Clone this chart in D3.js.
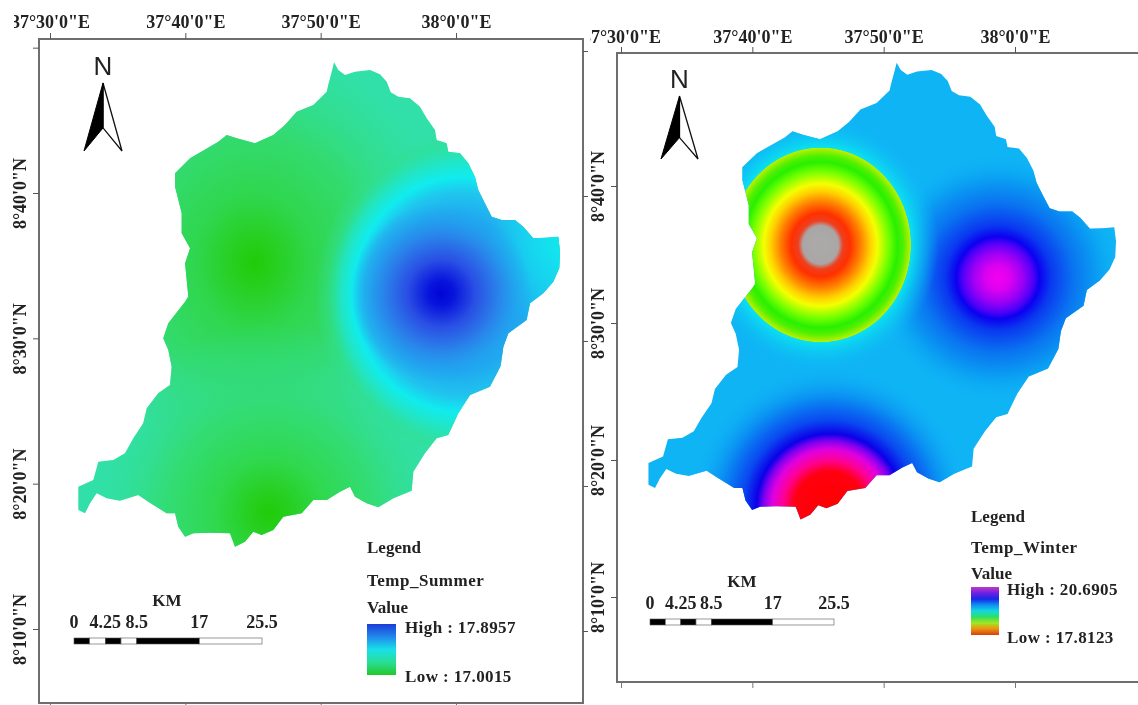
<!DOCTYPE html>
<html>
<head>
<meta charset="utf-8">
<title>Temp Summer / Temp Winter</title>
<script src="https://cdn.jsdelivr.net/npm/d3@7"></script>
<style>
  html, body { margin: 0; padding: 0; background: #fff; }
  svg { display: block; filter: blur(0.7px); }
  text { font-family: "Liberation Serif", serif; font-weight: bold; fill: #222; }
</style>
</head>
<body>
<svg id="chart" width="1138" height="705"></svg>
<script>
// all lon values are minutes east of 37°30', all lat values minutes north of 8°0'
const lonTicks = [0, 10, 20, 30];
const lonLabels = ["37°30'0\"E", "37°40'0\"E", "37°50'0\"E", "38°0'0\"E"];
const latTicks = [10, 20, 30, 40];
const latLabels = ["8°10'0\"N", "8°20'0\"N", "8°30'0\"N", "8°40'0\"N"];
const latTickMarks = [10, 20, 30, 40, 50];

// catchment outline
const borderLon = [20.99, 21.30, 21.80, 22.54, 23.65, 24.38, 24.88, 25.18, 25.74, 26.60, 27.34, 27.84, 28.45, 28.57, 29.31, 29.43, 30.30, 30.91, 31.40, 31.65, 32.14, 32.64, 33.38, 34.36, 34.97, 35.71, 36.70, 37.56, 37.69, 37.63, 37.19, 36.45, 35.47, 35.22, 33.87, 33.50, 33.30, 32.51, 31.04, 30.17, 29.43, 28.57, 27.71, 26.85, 26.73, 25.37, 24.26, 23.40, 22.54, 22.17, 21.43, 20.45, 19.46, 18.60, 17.24, 16.50, 15.64, 15.02, 14.41, 13.67, 13.30, 11.82, 10.59, 9.98, 9.48, 9.24, 8.62, 7.26, 6.52, 5.17, 4.19, 3.45, 2.96, 2.59, 2.09, 2.09, 3.20, 3.57, 4.68, 5.54, 6.16, 6.89, 7.15, 8.00, 8.87, 8.99, 8.74, 8.37, 8.74, 9.98, 10.22, 9.98, 10.35, 9.73, 9.73, 9.24, 9.24, 10.35, 12.44, 13.06, 13.80, 15.15, 16.50, 17.36, 18.23, 19.46, 20.45, 20.56, 20.82];
const borderLat = [48.99, 48.46, 48.12, 48.35, 48.46, 48.17, 47.66, 46.93, 46.63, 46.52, 45.94, 45.14, 44.33, 43.65, 43.42, 42.84, 42.73, 42.04, 41.12, 40.21, 39.29, 38.37, 38.14, 38.14, 37.68, 36.88, 36.92, 36.99, 35.96, 34.82, 33.90, 33.10, 32.41, 31.26, 30.35, 29.42, 28.10, 26.67, 26.10, 24.84, 23.35, 23.12, 22.09, 20.82, 19.52, 18.99, 18.37, 18.65, 19.10, 19.79, 19.45, 18.88, 18.88, 17.96, 17.73, 16.81, 16.47, 16.69, 16.01, 15.66, 16.58, 16.63, 16.58, 16.35, 17.04, 17.96, 17.96, 18.76, 19.22, 18.83, 18.99, 19.34, 18.65, 17.96, 18.19, 19.79, 20.25, 21.51, 21.63, 22.09, 23.12, 24.15, 25.19, 26.22, 26.79, 28.05, 29.20, 30.0, 31.03, 32.52, 32.87, 35.16, 36.19, 37.23, 38.60, 40.43, 41.36, 42.39, 43.53, 43.99, 43.76, 43.42, 43.99, 44.68, 45.59, 46.05, 46.97, 47.43, 48.35];

// scale bar
const kmTicks = [0, 4.25, 8.5, 17, 25.5];
const kmStarts = [0, 2.125, 4.25, 6.375, 8.5, 17];
const kmEnds = [2.125, 4.25, 6.375, 8.5, 17, 25.5];
const kmFill = ["#000", "#fff", "#000", "#fff", "#000", "#fff"];

// temperature surfaces: peaks with their reach in minutes and radial colour profile
const summerBase = "#30e0a8";
const summerPeaks = ["west", "south", "east", "tip", "core"];
const summerLon = [15.1, 16.2, 31.4, 37.0, 28.9];
const summerLat = [35.2, 18.0, 33.0, 36.1, 33.1];
const summerRx = [15, 14, 11.8, 5, 6.7];
const summerRy = [16, 13, 11.6, 5.5, 6.2];
const summerFocus = [0.5, 0.5, 0.39, 0.5, 0.5];
const summerStops = [
  [[0, "#1fcc08", 1], [0.1, "#26cf1e", 1], [0.28, "#2fd64c", 1], [0.55, "#33da68", 0.9], [0.8, "#33dc80", 0.4], [1, "#33dfa8", 0]],
  [[0, "#1fcc08", 1], [0.1, "#26cf1e", 1], [0.28, "#2fd84c", 1], [0.55, "#33dc70", 0.9], [0.8, "#33dd90", 0.35], [1, "#33dfa8", 0]],
  [[0, "#20a8f0", 1], [0.45, "#20a8f0", 1], [0.6, "#20c4ee", 1], [0.7, "#10ecee", 1], [0.8, "#20e6c8", 0.9], [0.92, "#30e090", 0.4], [1, "#33dfa8", 0]],
  [[0, "#10e8ee", 0.8], [0.5, "#10e8ee", 0.45], [1, "#10e8ee", 0]],
  [[0, "#0004d8", 1], [0.14, "#0814dc", 1], [0.38, "#2a50e4", 1], [0.62, "#2a80ea", 1], [0.85, "#22a0ee", 0.6], [1, "#20a8f0", 0]]
];
const summerRamp = ["#1c3cd8", "#2288ec", "#18e0e8", "#2ade98", "#22c828"];
const summerHigh = 17.8957;
const summerLow = 17.0015;

const winterBase = "#0fb4f5";
const winterPeaks = ["east", "south", "west"];
const winterLon = [28.7, 15.9, 15.2];
const winterLat = [33.3, 16.6, 35.7];
const winterRx = [9.6, 10.7, 9];
const winterRy = [9.1, 10.2, 9.3];
const winterFocus = [0.5, 0.5, 0.5];
const winterStops = [
  [[0, "#f400f0", 1], [0.1, "#dc00f0", 1], [0.2, "#9a00f5", 1], [0.28, "#5000f8", 1], [0.33, "#0c00f0", 1], [0.42, "#0a38f0", 1], [0.6, "#0a74f0", 1], [0.8, "#0aa0f3", 1], [1, "#0fb4f5", 0]],
  [[0, "#ff0000", 1], [0.25, "#ff0010", 1], [0.33, "#ff0090", 1], [0.41, "#e000e0", 1], [0.47, "#8000f0", 1], [0.52, "#0c00e8", 1], [0.62, "#0a48f0", 1], [0.78, "#0a8cf2", 1], [1, "#0fb4f5", 0]],
  [[0, "#aaaaaa", 1], [0.15, "#aba6a6", 1], [0.19, "#ee4020", 1], [0.25, "#ff3000", 1], [0.34, "#ff8000", 1], [0.42, "#ffd000", 1], [0.48, "#f4ff00", 1], [0.58, "#70ff00", 1], [0.65, "#28f000", 1], [0.7, "#50f000", 1], [0.76, "#b8f000", 1], [0.765, "#0ae0f0", 1], [1, "#0fb4f5", 0]]
];
const winterRamp = ["#c038c8", "#7020e0", "#1828e8", "#1090f0", "#10d8e0", "#30e060", "#a0e820", "#f09010", "#d04010"];
const winterHigh = 20.6905;
const winterLow = 17.8123;

const svg = d3.select("#chart");
const defs = svg.append("defs");

function drawPanel(p) {
  const x = d3.scaleLinear().domain([0, 30]).range(p.xRange);
  const y = d3.scaleLinear().domain([40, 10]).range(p.yRange);
  const g = svg.append("g").attr("id", p.id);

  // map area
  const outline = d3.line().x(d => x(d[0])).y(d => y(d[1]));
  const border = d3.zip(borderLon, borderLat);
  defs.append("clipPath").attr("id", p.id + "-clip")
    .append("path").attr("d", outline(border) + "Z");

  const map = g.append("g").attr("clip-path", `url(#${p.id}-clip)`);
  map.append("rect")
    .attr("x", x(0)).attr("y", y(50))
    .attr("width", x(40) - x(0)).attr("height", y(10) - y(50))
    .attr("fill", p.base);

  p.peaks.forEach((name, i) => {
    const grad = defs.append("radialGradient").attr("id", `${p.id}-${name}`)
      .attr("fx", p.focus[i]);
    grad.selectAll("stop").data(p.stops[i]).join("stop")
      .attr("offset", d => d[0])
      .attr("stop-color", d => d[1])
      .attr("stop-opacity", d => d[2]);
    const rx = x(p.rx[i]) - x(0), ry = y(0) - y(p.ry[i]);
    map.append("ellipse")
      .attr("cx", x(p.lon[i])).attr("cy", y(p.lat[i]))
      .attr("rx", rx).attr("ry", ry)
      .attr("fill", `url(#${p.id}-${name})`);
  });

  // frame
  g.append("rect")
    .attr("x", p.frame[0]).attr("y", p.frame[1])
    .attr("width", p.frame[2] - p.frame[0]).attr("height", p.frame[3] - p.frame[1])
    .attr("fill", "none").attr("stroke", "#6e6e6e").attr("stroke-width", 2);

  // axes
  const lonFmt = d => lonLabels[lonTicks.indexOf(d)];
  const latFmt = d => latLabels[latTicks.indexOf(d)] || "";
  defs.append("clipPath").attr("id", p.id + "-labels")
    .append("rect").attr("x", p.labelClip).attr("y", -p.frame[1]).attr("width", 1138).attr("height", 705);

  const top = g.append("g").attr("clip-path", `url(#${p.id}-labels)`)
    .attr("transform", `translate(0,${p.frame[1]})`);
  top.call(d3.axisTop(x).tickValues(lonTicks).tickFormat(lonFmt).tickSize(p.tick).tickPadding(p.topPad));
  top.select(".domain").remove();
  top.selectAll("text").attr("font-size", p.tickFont);
  top.selectAll(".tick line").attr("stroke", "#555");

  const bottom = g.append("g").attr("transform", `translate(0,${p.frame[3]})`);
  bottom.call(d3.axisBottom(x).tickValues(lonTicks).tickFormat("").tickSize(p.tick));
  bottom.select(".domain").remove();
  bottom.selectAll(".tick line").attr("stroke", "#777");

  const left = g.append("g").attr("transform", `translate(${p.frame[0]},0)`);
  left.call(d3.axisLeft(y).tickValues(p.leftMarks).tickFormat(latFmt).tickSize(p.tick).tickPadding(8));
  left.select(".domain").remove();
  left.selectAll(".tick line").attr("stroke", "#555");
  left.selectAll("text")
    .attr("font-size", p.tickFont)
    .attr("text-anchor", "middle")
    .attr("dy", 0)
    .attr("x", 0)
    .attr("y", 0)
    .attr("transform", `translate(${p.latLabelX - p.frame[0]},0) rotate(-90)`)
    .attr("dominant-baseline", "middle");

  // north arrow
  const na = p.north;
  const ax = d3.scaleLinear().domain([0, 1]).range([na.x0, na.x1]);
  const ay = d3.scaleLinear().domain([0, 1]).range([na.y0, na.y1]);
  const arrow = d3.line().x(d => ax(d[0])).y(d => ay(d[1]));
  const north = g.append("g");
  north.append("path").attr("d", arrow([[0.5, 0], [1, 1], [0.5, 0.66]]) + "Z")
    .attr("fill", "#fff").attr("stroke", "#111").attr("stroke-width", 1.3);
  north.append("path").attr("d", arrow([[0.5, 0], [0, 1], [0.5, 0.66]]) + "Z")
    .attr("fill", "#000").attr("stroke", "#000").attr("stroke-width", 1);
  north.append("text").text("N")
    .attr("x", ax(0.5)).attr("y", na.nBase)
    .attr("text-anchor", "middle")
    .style("font-family", "'Liberation Sans', sans-serif")
    .style("font-weight", "normal")
    .attr("font-size", 26);

  // scale bar
  const km = d3.scaleLinear().domain([0, 25.5]).range(p.barRange);
  const bar = g.append("g");
  bar.selectAll("rect").data(kmStarts).join("rect")
    .attr("x", d => km(d))
    .attr("y", p.barY)
    .attr("width", (d, i) => km(kmEnds[i]) - km(d))
    .attr("height", 6)
    .attr("fill", (d, i) => kmFill[i])
    .attr("stroke", "#555")
    .attr("stroke-width", 0.6);
  bar.selectAll("text.km").data(kmTicks).join("text")
    .attr("class", "km")
    .text(d => d)
    .attr("x", d => km(d))
    .attr("y", p.barY - 10)
    .attr("text-anchor", "middle")
    .attr("font-size", 18);
  bar.append("text").text("KM")
    .attr("x", p.kmX).attr("y", p.barY - 32)
    .attr("text-anchor", "middle").attr("font-size", 17);

  // legend
  const leg = p.legend;
  const lg = g.append("g").attr("font-size", 17);
  lg.append("text").text("Legend").attr("x", leg.x).attr("y", leg.title);
  lg.append("text").text(p.name).attr("x", leg.x).attr("y", leg.name).attr("letter-spacing", 0.5);
  lg.append("text").text("Value").attr("x", leg.x).attr("y", leg.value);
  lg.append("text").text("High : " + p.high).attr("x", leg.tx).attr("y", leg.high).attr("letter-spacing", 0.4);
  lg.append("text").text("Low : " + p.low).attr("x", leg.tx).attr("y", leg.lowY).attr("letter-spacing", 0.4);

  const rampGrad = defs.append("linearGradient").attr("id", p.id + "-ramp")
    .attr("x1", 0).attr("y1", 0).attr("x2", 0).attr("y2", 1);
  rampGrad.selectAll("stop").data(p.ramp).join("stop")
    .attr("offset", (d, i) => i / (p.ramp.length - 1))
    .attr("stop-color", d => d);
  lg.append("rect")
    .attr("x", leg.x).attr("y", leg.y0)
    .attr("width", leg.w).attr("height", leg.y1 - leg.y0)
    .attr("fill", `url(#${p.id}-ramp)`);
}

drawPanel({
  id: "summer", name: "Temp_Summer", high: summerHigh, low: summerLow,
  base: summerBase, peaks: summerPeaks, lon: summerLon, lat: summerLat,
  rx: summerRx, ry: summerRy, focus: summerFocus, stops: summerStops, ramp: summerRamp,
  xRange: [50, 456], yRange: [193, 629],
  frame: [39, 39, 583, 703], tick: 6, topPad: 5, tickFont: 18, latLabelX: 22, labelClip: 14,
  leftMarks: latTickMarks,
  north: { x0: 84, x1: 122, y0: 83, y1: 151, nBase: 75 },
  barRange: [74, 262], barY: 638, kmX: 167,
  legend: { x: 367, tx: 405, title: 553, name: 586, value: 613, high: 633, lowY: 682, w: 29, y0: 624, y1: 675 }
});

drawPanel({
  id: "winter", name: "Temp_Winter", high: winterHigh, low: winterLow,
  base: winterBase, peaks: winterPeaks, lon: winterLon, lat: winterLat,
  rx: winterRx, ry: winterRy, focus: winterFocus, stops: winterStops, ramp: winterRamp,
  xRange: [621, 1015], yRange: [186, 597],
  frame: [617, 53, 1140, 682], tick: 6, topPad: 4, tickFont: 18, latLabelX: 600, labelClip: 590,
  leftMarks: latTicks,
  north: { x0: 661, x1: 698, y0: 96, y1: 159, nBase: 88 },
  barRange: [650, 834], barY: 619, kmX: 742,
  legend: { x: 971, tx: 1007, title: 522, name: 553, value: 579, high: 595, lowY: 643, w: 28, y0: 587, y1: 635 }
});

// ticks of the summer frame on its right side
const rightY = d3.scaleLinear().domain([40, 10]).range([196, 631]);
const rightSide = svg.append("g").attr("transform", "translate(583,0)");
rightSide.call(d3.axisRight(rightY).tickValues(latTickMarks).tickFormat("").tickSize(5));
rightSide.select(".domain").remove();
rightSide.selectAll(".tick line").attr("stroke", "#555");
</script>
</body>
</html>
